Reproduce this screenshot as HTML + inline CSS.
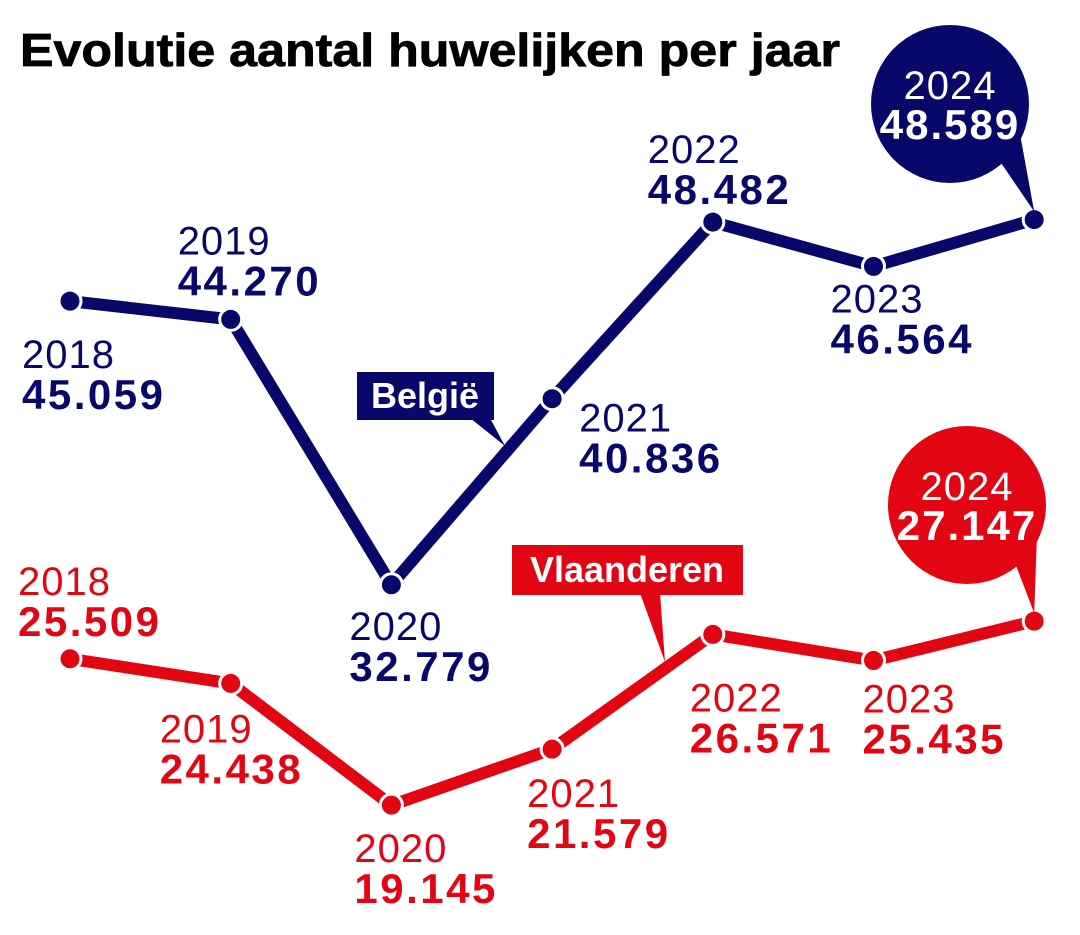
<!DOCTYPE html>
<html><head><meta charset="utf-8">
<style>
html,body{margin:0;padding:0;background:#fff;}
svg{display:block;}
text{font-family:"Liberation Sans",Arial,sans-serif;}
.yr{font-size:40px;font-weight:400;}
.val{font-size:42px;font-weight:700;}
</style></head>
<body>
<svg id="chart" width="1080" height="935" viewBox="0 0 1080 935">
<text x="20" y="66" font-size="46" font-weight="700" fill="#000" stroke="#000" stroke-width="0.8" textLength="820" lengthAdjust="spacingAndGlyphs">Evolutie aantal huwelijken per jaar</text>
<g id="g-be"></g>
<g id="g-vl"></g>
</svg>
<script>
const years = ["2018","2019","2020","2021","2022","2023","2024"];
const belgie = [45059,44270,32779,40836,48482,46564,48589];
const vlaanderen = [25509,24438,19145,21579,26571,25435,27147];
const beLabels = ["45.059","44.270","32.779","40.836","48.482","46.564","48.589"];
const vlLabels = ["25.509","24.438","19.145","21.579","26.571","25.435","27.147"];

const NS="http://www.w3.org/2000/svg";
const NAVY="#08086a", RED="#e20613";
const SCALE=0.0231;
function xPos(i){return 70+i*160.7;}
function yBe(v){return 1342-v*SCALE;}
function yVl(v){return 1245.5-v*0.023;}
function mk(tag,attrs,parent){const e=document.createElementNS(NS,tag);for(const k in attrs)e.setAttribute(k,attrs[k]);parent.appendChild(e);return e;}

const beOff=[[-48,67],[-53,-65],[-42,55],[27,33],[-65,-59],[-43,46]];
const vlOff=[[-52,-64],[-71,59],[-37,57],[-25,58],[-23,77],[-11,52]];

function drawSeries(gid,vals,labels,yf,color,offs,bubble,tag){
  const g=document.getElementById(gid);
  const pts=vals.map((v,i)=>xPos(i)+","+yf(v)).join(" ");
  const line=mk("polyline",{points:pts,fill:"none",stroke:color,"stroke-width":12,"stroke-linejoin":"round"},g);
  
  
  vals.forEach((v,i)=>{
    const c=mk("circle",{cx:xPos(i),cy:yf(v),r:11,fill:color,stroke:"#fff","stroke-width":3},g);
    
    
  });
  for(let i=0;i<6;i++){
    const x=xPos(i)+offs[i][0], y=yf(vals[i])+offs[i][1];
    const t1=mk("text",{x:x,y:y,class:"yr",fill:color,"letter-spacing":"1"},g);
    t1.textContent=years[i];
    
    
    const t2=mk("text",{x:x,y:y+41,class:"val",fill:color,"letter-spacing":"2.5"},g);
    t2.textContent=labels[i];
    
    
  }
  const px=xPos(6), py=yf(vals[6]);
  const bx=bubble[0], by=bubble[1];
  const tail=mk("polygon",{points:(bx+45)+","+(by+50)+" "+(bx+70)+","+(by+30)+" "+px+","+(py-8),fill:color},g);
  
  
  const bc=mk("circle",{cx:bx,cy:by,r:79,fill:color},g);
  
  
  const b1=mk("text",{x:bx,y:by-5,"text-anchor":"middle",class:"yr",fill:"#fff","letter-spacing":"1"},g);
  b1.textContent=years[6];
  
  
  const b2=mk("text",{x:bx,y:by+35,"text-anchor":"middle",class:"val",fill:"#fff","letter-spacing":"2"},g);
  b2.textContent=labels[6];
  
  
}
drawSeries("g-be",belgie,beLabels,yBe,NAVY,beOff,[950,104],"belgie");
drawSeries("g-vl",vlaanderen,vlLabels,yVl,RED,vlOff,[967,505],"vlaanderen");

const svg=document.getElementById("chart");
const p1=mk("polygon",{points:"470,418 490,418 505,446",fill:NAVY},svg);


const r1=mk("rect",{x:357,y:372,width:137,height:48,fill:NAVY},svg);


const t1=mk("text",{x:425,y:408,"text-anchor":"middle","font-size":"36","font-weight":"700",fill:"#fff"},svg);
t1.textContent="België";



const p2=mk("polygon",{points:"640,593 660,593 665,662",fill:RED},svg);


const r2=mk("rect",{x:512,y:545,width:231,height:50,fill:RED},svg);


const t2=mk("text",{x:627,y:582,"text-anchor":"middle","font-size":"36","font-weight":"700",fill:"#fff"},svg);
t2.textContent="Vlaanderen";


</script>
</body></html>
